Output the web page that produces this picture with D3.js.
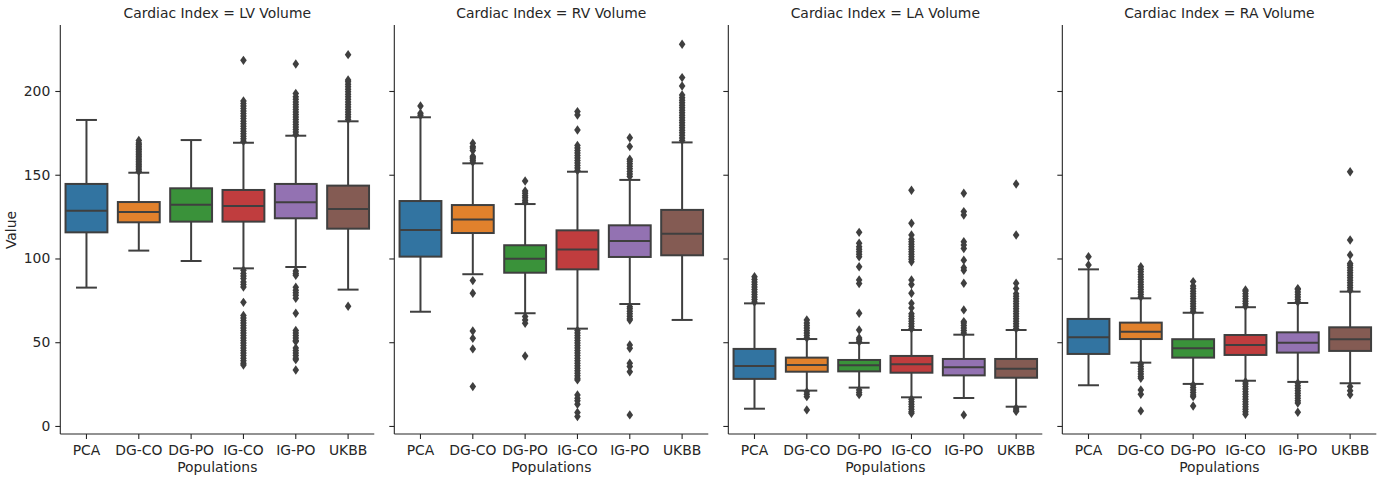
<!DOCTYPE html>
<html>
<head>
<meta charset="utf-8">
<script src="https://cdn.jsdelivr.net/npm/d3@7"></script>
<style>
  body { margin: 0; background: #fff; }
  text { font-family: "DejaVu Sans", sans-serif; }
</style>
</head>
<body>
<svg id="chart" width="1396" height="483"></svg>
<script>
// facets and categories
const indices = ["LV Volume", "RV Volume", "LA Volume", "RA Volume"];
const populations = ["PCA", "DG-CO", "DG-PO", "IG-CO", "IG-PO", "UKBB"];
const colors = ["#3274a1", "#e1812c", "#3a923a", "#c03d3e", "#9372b2", "#845b53"];
const yTicks = [0, 50, 100, 150, 200];

// box stats per population: [lower whisker, q1, median, q3, upper whisker]
const lvStats = [
  [82.6, 115.6, 128.5, 144.5, 182.7],
  [104.7, 121.6, 127.8, 133.7, 151.2],
  [98.5, 122, 132.1, 141.9, 170.7],
  [94.1, 122, 131.3, 140.9, 169.1],
  [94.9, 124, 133.5, 144.5, 173.3],
  [81.4, 117.8, 129.6, 143.5, 181.9]
];
const lvOutliers = [
  [],
  [152, 153, 154, 155, 156, 157, 158, 159, 160, 161, 162, 163, 164, 165, 166, 167, 168, 169, 170.5],
  [],
  [170, 171.5, 173, 174.5, 176, 177.5, 179, 180.5, 182, 183.5, 185, 186.5, 188, 189.5, 191, 192.5, 194, 218.3,
   93, 91, 89.5, 88, 86, 84.5, 83, 73.8, 66, 64.5, 63, 61.5, 60, 58.5, 57, 55.5, 54, 52.5, 51, 49.5, 48, 46.5, 45, 43.5, 42, 40.5, 39, 37.5, 36.4],
  [174, 175.5, 177, 178.5, 180, 181.5, 183, 184.5, 186, 187.5, 189, 190.5, 192, 193.5, 195, 196.5, 198.5, 216.1,
   92.5, 91, 90, 82.8, 81, 79.5, 78, 76.2, 67.3, 57, 55.5, 54, 52.5, 51, 50.4, 46.6, 45, 43.5, 42, 40.5, 39.6, 33.4],
  [183, 184.5, 186, 187.5, 189, 190.5, 192, 193.5, 195, 196.5, 198, 199.5, 201, 202.5, 204, 205.5, 206.6, 221.7, 71.5]
];

const rvStats = [
  [68.2, 101.1, 117, 134.3, 184.3],
  [90.6, 115.2, 123.2, 131.9, 156.8],
  [67.3, 91.5, 99.9, 107.9, 132.5],
  [58.1, 93.5, 105.3, 116.8, 151.8],
  [72.8, 100.9, 110.4, 119.8, 146.9],
  [63.3, 101.9, 114.8, 129, 169.3]
];
const rvOutliers = [
  [185.5, 186.7, 191],
  [157.5, 158.5, 159.5, 160.5, 161, 164.5, 166, 166.8, 168.8, 86.8, 79.2, 56.7, 52.3, 46, 23.5],
  [133.5, 134.8, 136.2, 137.5, 139, 140.3, 146.3, 65.3, 63.3, 61.3, 41.8],
  [152.5, 154, 155.5, 157, 158.5, 160, 161.5, 163, 164.5, 166, 167.5, 176.7, 185.7, 187.7,
   57, 55.5, 54, 52.5, 51, 49.5, 48, 46.5, 45, 43.5, 42, 40.5, 39, 37.5, 36, 34.5, 33, 31.5, 30, 28.5, 27.5,
   18.5, 16.5, 15, 13, 8, 5.6],
  [149, 150.5, 152, 153.5, 155, 156.5, 158, 159.3, 166.8, 172.1,
   71.2, 70, 68.5, 67, 65.5, 64, 63.3, 48.4, 46.4, 37.4, 35.5, 32.4, 6.6],
  [170.5, 172, 173.5, 175, 176.5, 178, 179.5, 181, 182.5, 184, 185.5, 187, 188.5, 190, 191.5, 193, 194.5, 196, 197.6, 203, 208, 227.9]
];

const laStats = [
  [10.3, 28.1, 35.8, 46, 73.2],
  [21.1, 32.4, 36.4, 40.8, 51.9],
  [22.9, 32.6, 36.2, 39.4, 49.6],
  [17.1, 31.8, 36.8, 41.8, 57.3],
  [16.7, 30.2, 35, 40, 54.5],
  [11.5, 28.8, 34.2, 40, 57.3]
];
const laOutliers = [
  [74, 75.5, 77, 78.5, 80, 81.5, 83, 84.5, 86, 87.5, 89.1],
  [52.5, 54, 55.5, 57, 58.5, 60, 61.5, 63.3, 20.5, 19, 17.5, 9.6],
  [50.2, 51.5, 52.5, 57.3, 67.3, 85, 87.2, 95.1, 101, 102.5, 104, 105.5, 107, 109.1, 115.6, 21.5, 20, 18.7],
  [58, 59.5, 61, 62.5, 64, 65.5, 67, 70.5, 73.2, 79.2, 84.5, 87.2, 98, 99.5, 101, 102.5, 104, 105.5, 107, 108.5, 110, 111.5, 114, 121, 140.7,
   16, 14.5, 13, 11.5, 10, 8.5, 7.6],
  [55.5, 57, 58.5, 60, 61.5, 62.3, 69.3, 85.2, 93, 94.5, 99, 106, 108, 110, 126, 128, 138.9, 6.6],
  [58, 59.5, 61, 62.5, 64, 65.5, 67, 68.5, 70, 71.5, 73, 74.5, 76, 77.5, 79, 82, 85.2, 114, 144.5, 10.7, 9.5, 8.7]
];

const raStats = [
  [24.3, 43, 53, 63.9, 93.5],
  [37.8, 51.9, 56.3, 61.7, 76.2],
  [25.1, 40.8, 46.4, 51.8, 67.6],
  [27, 42.4, 48.4, 54.3, 70.9],
  [26.3, 43.8, 49.7, 55.9, 73.4],
  [25.5, 44.8, 51.8, 58.9, 80.2]
];
const raOutliers = [
  [96.1, 101.1],
  [77, 78.5, 80, 81.5, 83, 84.5, 86, 87.5, 89, 90.5, 92, 93.5, 95.1, 37, 35.5, 34, 32.5, 31, 29.5, 28.5, 21.5, 18.9, 9],
  [68.5, 70, 71.5, 73, 74.5, 76, 77.5, 79, 80.5, 82, 83.5, 86.2, 24.5, 23, 21.5, 20, 18.5, 17.5, 11.9],
  [71.5, 73, 74.5, 76, 77.5, 79, 80.5, 81.2, 26.4, 25, 23.5, 22, 20.5, 19, 17.5, 16, 14.5, 13, 11.5, 10, 8.5, 7],
  [74, 75.5, 77, 78.5, 80, 81.5, 82, 25.7, 24, 22.5, 21, 19.5, 18, 16.5, 15, 13.7, 8.2],
  [81, 82.5, 84, 85.5, 87, 88.5, 90, 91.5, 93, 94.5, 96, 97, 102.1, 111, 151.8, 23.5, 21, 18.7]
];

const panels = [
  { stats: lvStats, outliers: lvOutliers },
  { stats: rvStats, outliers: rvOutliers },
  { stats: laStats, outliers: laOutliers },
  { stats: raStats, outliers: raOutliers }
].map((p, i) => ({ ...p, name: indices[i] }));

const svg = d3.select("#chart");
const plotTop = 25, plotBottom = 434;
const lineColor = "#3f3f3f";
const textColor = "#262626";

const fx = d3.scaleBand()
  .domain(indices)
  .range([60.3, 1376.3])
  .paddingInner(0.06);

const y = d3.scaleLinear()
  .domain([-4.8, 239.4])
  .range([plotBottom, plotTop]);

const diamond = "M0,-4.7L3.3,0L0,4.7L-3.3,0Z";

panels.forEach((p, pi) => {
  const g = svg.append("g").attr("transform", `translate(${fx(p.name)},0)`);
  const x = d3.scaleBand()
    .domain(populations)
    .range([0, fx.bandwidth()]);
  const bw = x.bandwidth() * 0.8;

  // y axis
  const ya = g.append("g")
    .call(d3.axisLeft(y).tickValues(yTicks).tickSize(5).tickSizeOuter(0).tickPadding(5)
      .tickFormat(pi === 0 ? d3.format("d") : () => ""));
  // x axis
  const xa = g.append("g")
    .attr("transform", `translate(0,${plotBottom})`)
    .call(d3.axisBottom(x).tickSize(5).tickSizeOuter(0).tickPadding(6));
  [ya, xa].forEach(a => {
    a.selectAll("path, line").attr("stroke", textColor).attr("stroke-width", 1.1);
    a.selectAll("text").attr("fill", textColor).style("font-size", "13.9px");
  });
  ya.select(".domain").attr("d", `M0,${plotBottom}V${plotTop}`);
  xa.select(".domain").attr("d", `M0,0H${fx.bandwidth()}`);

  const boxes = g.append("g").selectAll("g")
    .data(p.stats.map((s, i) => ({ s, pop: populations[i], color: colors[i], out: p.outliers[i] })))
    .join("g")
    .attr("transform", d => `translate(${x(d.pop) + x.bandwidth() / 2},0)`);

  // whiskers
  boxes.append("line")
    .attr("y1", d => y(d.s[0])).attr("y2", d => y(d.s[1]))
    .attr("stroke", lineColor).attr("stroke-width", 2);
  boxes.append("line")
    .attr("y1", d => y(d.s[3])).attr("y2", d => y(d.s[4]))
    .attr("stroke", lineColor).attr("stroke-width", 2);
  // caps
  boxes.selectAll("line.cap")
    .data(d => [d.s[0], d.s[4]])
    .join("line").attr("class", "cap")
    .attr("x1", -bw / 4).attr("x2", bw / 4)
    .attr("y1", v => y(v)).attr("y2", v => y(v))
    .attr("stroke", lineColor).attr("stroke-width", 2);
  // box
  boxes.append("rect")
    .attr("x", -bw / 2).attr("width", bw)
    .attr("y", d => y(d.s[3]))
    .attr("height", d => y(d.s[1]) - y(d.s[3]))
    .attr("fill", d => d.color)
    .attr("stroke", lineColor).attr("stroke-width", 2);
  // median
  boxes.append("line")
    .attr("x1", -bw / 2).attr("x2", bw / 2)
    .attr("y1", d => y(d.s[2])).attr("y2", d => y(d.s[2]))
    .attr("stroke", lineColor).attr("stroke-width", 2);
  // fliers
  boxes.selectAll("path.flier")
    .data(d => d.out)
    .join("path").attr("class", "flier")
    .attr("d", diamond)
    .attr("transform", v => `translate(0,${y(v)})`)
    .attr("fill", lineColor);

  // facet title
  g.append("text")
    .attr("x", fx.bandwidth() / 2).attr("y", 17.7)
    .attr("text-anchor", "middle")
    .attr("fill", textColor).style("font-size", "13.9px")
    .text(`Cardiac Index = ${p.name}`);
  // x label
  g.append("text")
    .attr("x", fx.bandwidth() / 2).attr("y", 472)
    .attr("text-anchor", "middle")
    .attr("fill", textColor).style("font-size", "13.9px")
    .text("Populations");
});

svg.append("text")
  .attr("transform", "translate(15.5,230) rotate(-90)")
  .attr("text-anchor", "middle")
  .attr("fill", textColor).style("font-size", "13.9px")
  .text("Value");
</script>
</body>
</html>
